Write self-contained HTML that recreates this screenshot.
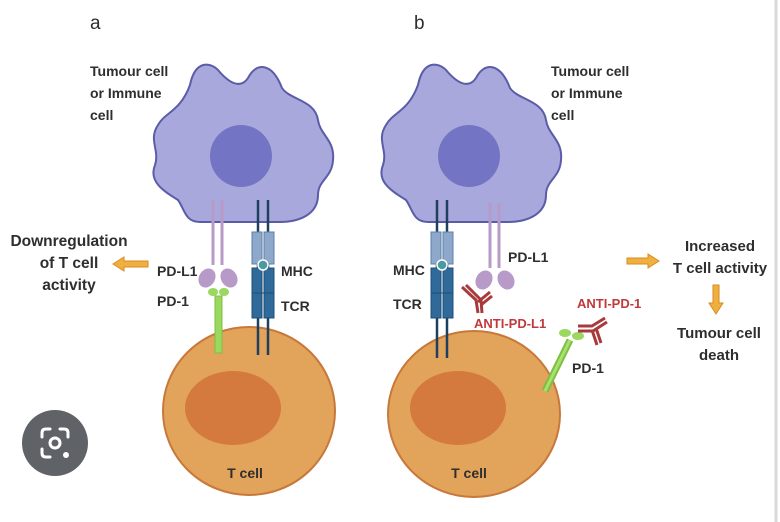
<!DOCTYPE html>
<html><head><style>
html,body{margin:0;padding:0;background:#fff}
svg{display:block}
text{font-family:"Liberation Sans",sans-serif;font-weight:bold;fill:#2e2e2e;font-size:14px}
.r{fill:#c0393b}
</style></head><body>
<svg width="780" height="522" viewBox="0 0 780 522" xmlns="http://www.w3.org/2000/svg">
<defs>
<g id="cell">
<path d="M190,85 C195,60 210,62 218,70 C228,82 240,90 248,78 C256,62 272,62 282,88 C290,100 315,100 318,120 C320,135 335,140 333,160 C332,178 318,180 318,195 C318,215 298,222 280,222 L200,222 C185,222 185,210 178,200 C165,192 148,182 155,165 C160,150 148,140 158,125 C165,112 180,112 190,85 Z" fill="#a8a8dc" stroke="#5a5ca8" stroke-width="2"/>
<ellipse cx="241" cy="156" rx="31" ry="31" fill="#7474c4"/>
</g>
</defs>
<line x1="776" y1="0" x2="776" y2="522" stroke="#d8d8d8" stroke-width="3"/>
<text x="90" y="29" style="font-weight:normal;font-size:19px">a</text>
<text x="414" y="29" style="font-weight:normal;font-size:19px">b</text>

<!-- Panel a -->
<use href="#cell"/>
<ellipse cx="249" cy="411" rx="86" ry="84" fill="#e2a35a" stroke="#c8783a" stroke-width="2"/>
<ellipse cx="233" cy="408" rx="48" ry="37" fill="#d57a3f"/>
<g stroke="#b89ac8" stroke-width="3" fill="none">
<line x1="213" y1="200" x2="213" y2="265"/><line x1="222" y1="200" x2="222" y2="265"/>
</g>
<ellipse cx="207" cy="278" rx="8" ry="10" fill="#b89ac8" transform="rotate(30 207 278)"/>
<ellipse cx="229" cy="278" rx="8" ry="10" fill="#b89ac8" transform="rotate(-30 229 278)"/>
<rect x="215" y="296" width="7" height="57" fill="#9ad860" stroke="#7cc040"/>
<ellipse cx="213" cy="292" rx="5" ry="4" fill="#9ad860"/><ellipse cx="224" cy="292" rx="5" ry="4" fill="#9ad860"/>
<g stroke="#1f3f5e" stroke-width="2.5"><line x1="258" y1="200" x2="258" y2="355"/><line x1="268" y1="200" x2="268" y2="355"/></g>
<rect x="252" y="232" width="10" height="32" fill="#8ea8cc" stroke="#5d7ea8"/><rect x="264" y="232" width="10" height="32" fill="#8ea8cc" stroke="#5d7ea8"/>
<rect x="252" y="268" width="10" height="50" fill="#2f6a9a" stroke="#1f4f78"/><rect x="264" y="268" width="10" height="50" fill="#2f6a9a" stroke="#1f4f78"/>
<line x1="252" y1="293" x2="274" y2="293" stroke="#1f4f78"/>
<circle cx="263" cy="265" r="5" fill="#4a9aa0" stroke="#fff" stroke-width="1.5"/>
<text x="90" y="76">Tumour cell</text><text x="90" y="98">or Immune</text><text x="90" y="120">cell</text>
<text x="69" y="246" text-anchor="middle" style="font-size:15.5px">Downregulation</text>
<text x="69" y="268" text-anchor="middle" style="font-size:15.5px">of T cell</text>
<text x="69" y="290" text-anchor="middle" style="font-size:15.5px">activity</text>
<path d="M148,261 L124,261 L124,257 L113,264 L124,271 L124,267 L148,267 Z" fill="#f0b040" stroke="#d88a20"/>
<text x="157" y="276">PD-L1</text><text x="157" y="306">PD-1</text>
<text x="281" y="276">MHC</text><text x="281" y="311">TCR</text>
<text x="245" y="478" text-anchor="middle">T cell</text>

<!-- Panel b -->
<use href="#cell" transform="translate(228,0)"/>
<ellipse cx="474" cy="414" rx="86" ry="83" fill="#e2a35a" stroke="#c8783a" stroke-width="2"/>
<ellipse cx="458" cy="408" rx="48" ry="37" fill="#d57a3f"/>
<g stroke="#1f3f5e" stroke-width="2.5"><line x1="437" y1="200" x2="437" y2="358"/><line x1="447" y1="200" x2="447" y2="358"/></g>
<rect x="431" y="232" width="10" height="32" fill="#8ea8cc" stroke="#5d7ea8"/><rect x="443" y="232" width="10" height="32" fill="#8ea8cc" stroke="#5d7ea8"/>
<rect x="431" y="268" width="10" height="50" fill="#2f6a9a" stroke="#1f4f78"/><rect x="443" y="268" width="10" height="50" fill="#2f6a9a" stroke="#1f4f78"/>
<line x1="431" y1="293" x2="453" y2="293" stroke="#1f4f78"/>
<circle cx="442" cy="265" r="5" fill="#4a9aa0" stroke="#fff" stroke-width="1.5"/>
<g stroke="#b89ac8" stroke-width="3" fill="none">
<line x1="490" y1="203" x2="490" y2="268"/><line x1="499" y1="203" x2="499" y2="268"/>
</g>
<ellipse cx="484" cy="280" rx="8" ry="10" fill="#b89ac8" transform="rotate(30 484 280)"/>
<ellipse cx="506" cy="280" rx="8" ry="10" fill="#b89ac8" transform="rotate(-30 506 280)"/>
<g stroke="#a83a3c" stroke-width="3" fill="none">
<path d="M478,313 L476,300 L462,287"/><path d="M482,313 L481,300 L466,285"/>
<path d="M478,302 L490,292"/><path d="M481,305 L492,296"/>
</g>
<line x1="545" y1="391" x2="570" y2="340" stroke="#7cc040" stroke-width="7"/>
<line x1="545" y1="391" x2="570" y2="340" stroke="#a8e070" stroke-width="3"/>
<ellipse cx="565" cy="333" rx="6" ry="4" fill="#9ad860"/><ellipse cx="578" cy="336" rx="6" ry="4" fill="#9ad860"/>
<g stroke="#a83a3c" stroke-width="3" fill="none">
<path d="M578,326 L592,326 L605,318"/><path d="M578,331 L593,331 L607,322"/>
<path d="M592,330 L597,345"/><path d="M596,328 L601,343"/>
</g>
<text x="551" y="76">Tumour cell</text><text x="551" y="98">or Immune</text><text x="551" y="120">cell</text>
<text x="393" y="275">MHC</text><text x="393" y="309">TCR</text>
<text x="508" y="262">PD-L1</text>
<text x="474" y="328" class="r" style="font-size:13px">ANTI-PD-L1</text>
<text x="577" y="308" class="r" style="font-size:13px">ANTI-PD-1</text>
<text x="572" y="373">PD-1</text>
<text x="469" y="478" text-anchor="middle">T cell</text>
<text x="720" y="251" text-anchor="middle" style="font-size:15px">Increased</text>
<text x="720" y="273" text-anchor="middle" style="font-size:15px">T cell activity</text>
<path d="M627,258 L648,258 L648,254 L659,261 L648,268 L648,264 L627,264 Z" fill="#f0b040" stroke="#d88a20"/>
<path d="M713,285 L719,285 L719,303 L723,303 L716,314 L709,303 L713,303 Z" fill="#f0b040" stroke="#d88a20"/>
<text x="719" y="338" text-anchor="middle" style="font-size:15px">Tumour cell</text>
<text x="719" y="360" text-anchor="middle" style="font-size:15px">death</text>

<circle cx="55" cy="443" r="33" fill="#5f6368"/>
<g stroke="#fff" stroke-width="3" fill="none" stroke-linecap="round">
<path d="M42,437 L42,433 Q42,429 46,429 L50,429"/>
<path d="M60,429 L64,429 Q68,429 68,433 L68,437"/>
<path d="M42,449 L42,453 Q42,457 46,457 L50,457"/>
</g>
<circle cx="55" cy="443" r="5" fill="none" stroke="#fff" stroke-width="3"/>
<circle cx="66" cy="455" r="3" fill="#fff"/>
</svg>
</body></html>
